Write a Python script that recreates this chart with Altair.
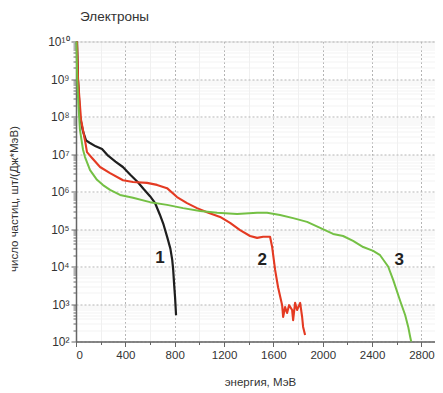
import altair as alt
import pandas as pd

# ---- data ----
black_x = [8, 16, 32, 57, 81, 110, 160, 211, 260, 320, 380, 440, 500, 550, 600, 640, 680, 710, 740, 765, 780, 788, 795, 803, 811]
black_y = [1e10, 1e9, 1e8, 4e7, 2.3e7, 2.0e7, 1.6e7, 1.35e7, 9e6, 6.3e6, 4.5e6, 2.8e6, 1.8e6, 1.15e6, 7.5e5, 5e5, 2.4e5, 1.3e5, 6e4, 3e4, 1.5e4, 8e3, 3.5e3, 1.5e3, 500]

red_x = [8, 16, 41, 73, 89, 130, 195, 276, 381, 462, 576, 657, 738, 819, 900, 981, 1062, 1168, 1249, 1330, 1411, 1468, 1517, 1573, 1590, 1614, 1638, 1671, 1679, 1695, 1711, 1727, 1752, 1760, 1776, 1792, 1817, 1833, 1841, 1857]
red_y = [1e10, 1e9, 8.1e7, 2.3e7, 1.12e7, 7.8e6, 4.5e6, 3.1e6, 2.0e6, 1.8e6, 1.7e6, 1.5e6, 1.23e6, 7.1e5, 4.9e5, 3.6e5, 2.8e5, 2.1e5, 1.45e5, 9.3e4, 6.5e4, 5.8e4, 6.2e4, 6.2e4, 3.3e4, 8.1e3, 2.8e3, 930, 450, 830, 575, 930, 690, 370, 1070, 690, 1070, 450, 245, 150]

green_x = [4, 10, 20, 32, 57, 73, 114, 170, 219, 276, 357, 462, 600, 738, 868, 1006, 1144, 1306, 1468, 1549, 1654, 1760, 1873, 1979, 2084, 2165, 2246, 2328, 2409, 2465, 2530, 2571, 2628, 2668, 2693, 2709, 2717]
green_y = [1e10, 1e9, 2e8, 4.4e7, 1.3e7, 8.3e6, 3.7e6, 2.05e6, 1.48e6, 1.1e6, 8.1e5, 6.8e5, 5.2e5, 4.4e5, 3.6e5, 3.0e5, 2.7e5, 2.5e5, 2.7e5, 2.7e5, 2.35e5, 1.95e5, 1.55e5, 1.07e5, 7.4e4, 6.5e4, 4.8e4, 3.3e4, 2.6e4, 2.0e4, 1.0e4, 4.4e3, 1.2e3, 510, 245, 132, 100]

series_names = ["1", "2", "3"]
series_colors = ["#1e1e1e", "#e43a22", "#74c044"]

label_text = ["1", "2", "3"]
label_x = [681, 1509, 2620]
label_y = [1.7e4, 1.5e4, 1.5e4]

x_major = [0, 400, 800, 1200, 1600, 2000, 2400, 2800]
x_minor = [200, 600, 1000, 1400, 1800, 2200, 2600]
y_major = [1e2, 1e3, 1e4, 1e5, 1e6, 1e7, 1e8, 1e9, 1e10]
y_minor = [m * 10 ** e for e in range(2, 10) for m in range(2, 10)]

rows = []
for name, xs, ys in zip(series_names, [black_x, red_x, green_x], [black_y, red_y, green_y]):
    for i, (a, b) in enumerate(zip(xs, ys)):
        rows.append({"series": name, "order": i, "E": a, "N": b})
df = pd.DataFrame(rows)
lab = pd.DataFrame({"t": label_text, "E": label_x, "N": label_y})

FONT = "Liberation Sans"
xscale = alt.Scale(domain=[0, 2910], nice=False, zero=False)
yscale = alt.Scale(type="log", domain=[1e2, 1e10], nice=False)

sup = "['⁰','¹','²','³','⁴','⁵','⁶','⁷','⁸','⁹','¹⁰'][round(log(datum.value)/LN10)]"

minor = alt.Chart(df).mark_line(opacity=0).encode(
    x=alt.X("E:Q", scale=xscale, axis=alt.Axis(
        orient="bottom", values=x_minor, labels=False, title=None, domain=False,
        tickSize=3, tickColor="#666", grid=True, gridColor="#ececec", gridWidth=0.8)),
    y=alt.Y("N:Q", scale=yscale, axis=alt.Axis(
        orient="left", values=y_minor, labels=False, title=None, domain=False,
        tickSize=3, tickColor="#666", grid=True, gridColor="#f0f0f0", gridWidth=0.8)),
    detail="series:N",
)

lines = alt.Chart(df).mark_line(strokeJoin="round").encode(
    x=alt.X("E:Q", scale=xscale, axis=alt.Axis(
        orient="bottom", values=x_major, format="d", title="энергия, МэВ", labelFontSize=11.5,
        titleFontSize=11.5, titleFontWeight="normal", titleColor="#333", labelColor="#333",
        domainColor="#666", domainWidth=1.5, tickColor="#666", tickSize=5, labelPadding=3,
        titleX=184, titleY=41, titleBaseline="middle",
        grid=True, gridColor="#b5b5b5", gridDash=[2, 2], gridWidth=1,
        labelFont=FONT, titleFont=FONT)),
    y=alt.Y("N:Q", scale=yscale, axis=alt.Axis(
        orient="left", values=y_major, title="число частиц, шт/(Дж*МэВ)", labelFontSize=12,
        labelExpr="'10' + " + sup,
        titleFontSize=11.5, titleFontWeight="normal", titleColor="#333", labelColor="#333",
        domainColor="#666", domainWidth=1.5, tickColor="#666", tickSize=5, labelPadding=2,
        titleX=-62, titleY=157, titleBaseline="middle",
        grid=True, gridColor="#b5b5b5", gridDash=[2, 2], gridWidth=1,
        labelFont=FONT, titleFont=FONT)),
    color=alt.Color("series:N", scale=alt.Scale(domain=series_names, range=series_colors), legend=None),
    strokeWidth=alt.StrokeWidth("series:N", scale=alt.Scale(domain=series_names, range=[2.2, 2.0, 3.0]), legend=None),
    order="order:Q",
    detail="series:N",
)

texts = alt.Chart(lab).mark_text(font=FONT, fontSize=17, fontWeight="bold", color="#222").encode(
    x=alt.X("E:Q", scale=xscale, axis=None),
    y=alt.Y("N:Q", scale=yscale, axis=None),
    text="t:N",
)

chart = alt.layer(minor, lines, texts).resolve_axis(x="independent", y="independent").properties(
    width=359, height=300,
    autosize=alt.AutoSizeParams(type="none"),
    padding={"left": 68, "top": 33.5, "right": 0, "bottom": 46},
    title=alt.TitleParams("Электроны", anchor="start", frame="group", fontSize=13.5, fontWeight="normal",
                          color="#333", font=FONT, offset=12, dx=4),
).configure_view(stroke=None).configure(background="white")

chart.save("out.html", embed_options={"renderer": "svg", "actions": False})
